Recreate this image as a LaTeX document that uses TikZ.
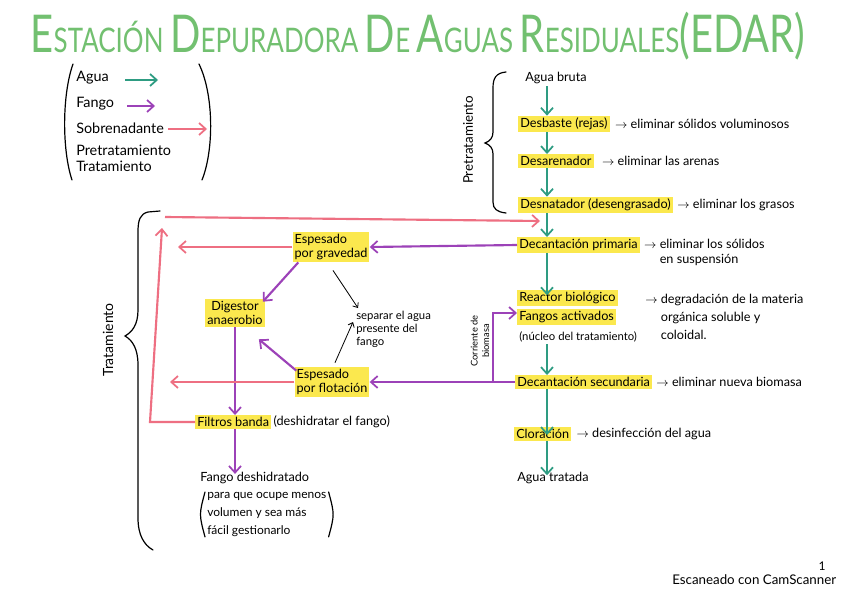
\documentclass[tikz,border=0pt]{standalone}
\usepackage{fontspec}
\usepackage{graphicx}
\setmainfont{Lato}
\usetikzlibrary{arrows.meta,calc}
\definecolor{aguac}{HTML}{2E9C82}
\definecolor{fangoc}{HTML}{9C42B8}
\definecolor{sobc}{HTML}{EE6F82}
\definecolor{hlc}{HTML}{FBE84E}
\definecolor{titc}{HTML}{72C070}
\begin{document}
\begin{tikzpicture}[x=0.75pt,y=-0.75pt,
  font=\fontsize{9.5}{11}\selectfont,
  hl/.style={fill=hlc,inner xsep=1.5pt,inner ysep=1.5pt},
  plain/.style={inner sep=1.5pt},
  legtxt/.style={plain,anchor=west,font=\fontsize{10.8}{12}\selectfont},
  flowbase/.style={line width=1.6pt,-{Straight Barb[length=5pt,width=9pt,line width=1.3pt]}},
  aguaf/.style={flowbase,draw=aguac},
  fangof/.style={flowbase,draw=fangoc},
  sobf/.style={flowbase,draw=sobc},
  thinar/.style={line width=0.6pt,-{Straight Barb[length=3pt,width=5pt]}},
  brk/.style={line width=0.9pt,line cap=round}]
\useasboundingbox (0,0) rectangle (848,599);
\fill[white] (0,0) rectangle (848,599);

% title
\node[text=titc,inner sep=0pt] (title) at (418,36) {\resizebox*{581pt}{36pt}{\fontsize{26}{26}\selectfont{\fontsize{40}{40}\selectfont E}STACIÓN {\fontsize{40}{40}\selectfont D}EPURADORA {\fontsize{40}{40}\selectfont D}E {\fontsize{40}{40}\selectfont A}GUAS {\fontsize{40}{40}\selectfont R}ESIDUALES{\fontsize{40}{40}\selectfont (EDAR)}}};

% legend
\node[legtxt] (lagua) at (74,78) {Agua};
\node[legtxt] (lfango) at (74,104) {Fango};
\node[legtxt] (lsob) at (74,128) {Sobrenadante};
\node[legtxt] (lpre) at (74,150) {Pretratamiento};
\node[legtxt] (ltra) at (74,166) {Tratamiento};
\coordinate (la1) at (125,80); \coordinate (la2) at (158,80);
\coordinate (lf1) at (127,106); \coordinate (lf2) at (155,106);
\coordinate (ls1) at (168,129); \coordinate (ls2) at (207,129);
\draw[aguaf] (la1) -- (la2);
\draw[fangof] (lf1) -- (lf2);
\draw[sobf] (ls1) -- (ls2);
\draw[brk] (73,64) .. controls (62,95) and (62,150) .. (72,180);
\draw[brk] (199,64) .. controls (214,95) and (214,150) .. (202,180);

% pretratamiento brace
\draw[brk] (506,72) .. controls (496,73) and (493,78) .. (493,88) -- (493,132) .. controls (493,138) and (490,141) .. (485,143) .. controls (490,145) and (493,148) .. (493,154) -- (493,202) .. controls (493,209) and (497,212) .. (506,213);
\node[plain,rotate=90,font=\fontsize{10}{12}\selectfont] (pre) at (468,140) {Pretratamiento};

% tratamiento brace
\draw[brk] (160,211) -- (148,212) .. controls (140,214) and (138,220) .. (138,232) -- (138,310) .. controls (138,325) and (132,332) .. (125,336) .. controls (132,340) and (138,348) .. (138,365) -- (138,518) .. controls (138,535) and (144,545) .. (153,550);
\node[plain,rotate=90,font=\fontsize{10.5}{12}\selectfont] (trt) at (108,340) {Tratamiento};

% main column
\coordinate (cx) at (547,0);
\node[plain,anchor=west] (bruta) at (523,78) {Agua bruta};
\node[hl,anchor=west] (desb) at (518,124) {Desbaste (rejas)};
\node[hl,anchor=west] (desa) at (518,161) {Desarenador};
\node[hl,anchor=west] (desn) at (518,205) {Desnatador (desengrasado)};
\node[hl,anchor=west] (dec1) at (517,245) {Decantación primaria};
\node[hl,anchor=west] (reac) at (517,298) {Reactor biológico};
\node[hl,anchor=west] (fang) at (517,317) {Fangos activados};
\node[plain,anchor=west,font=\fontsize{8.5}{10}\selectfont] (nucl) at (517,337) {(núcleo del tratamiento)};
\node[hl,anchor=west] (dec2) at (515,382) {Decantación secundaria};
\node[hl,anchor=west] (clor) at (514,434) {Cloración};
\node[plain,anchor=west] (trat) at (515,478) {Agua tratada};

% descriptions
\node[plain,anchor=west] (d1) at ($(desb.east)+(3,0)$) {$\rightarrow$ eliminar sólidos voluminosos};
\node[plain,anchor=west] (d2) at ($(desa.east)+(6,0)$) {$\rightarrow$ eliminar las arenas};
\node[plain,anchor=west] (d3) at ($(desn.east)+(2,0)$) {$\rightarrow$ eliminar los grasos};
\node[plain,anchor=north west,align=left] (d4) at ($(dec1.north east)+(2,0)$) {$\rightarrow$ eliminar los sólidos\\\hphantom{$\rightarrow$ }en suspensión};
\node[plain,anchor=north west,align=left,font=\fontsize{9.5}{13.5}\selectfont] (d5) at (643,292) {$\rightarrow$ degradación de la materia\\\hphantom{$\rightarrow$ }orgánica soluble y\\\hphantom{$\rightarrow$ }coloidal.};
\node[plain,anchor=west] (d6) at ($(dec2.east)+(2,0)$) {$\rightarrow$ eliminar nueva biomasa};
\node[plain,anchor=west] (d7) at ($(clor.east)+(3,0)$) {$\rightarrow$ desinfección del agua};

\draw[aguaf] (bruta.south -| cx) -- (desb.north -| cx);
\draw[aguaf] (desb.south -| cx) -- (desa.north -| cx);
\draw[aguaf] (desa.south -| cx) -- (desn.north -| cx);
\draw[aguaf] (desn.south -| cx) -- (dec1.north -| cx);
\draw[aguaf] (dec1.south -| cx) -- ([yshift=-4pt]reac.north -| cx);
\draw[aguaf] (nucl.south -| cx) -- (dec2.north -| cx);
\draw[aguaf] (dec2.south -| cx) -- ([yshift=-6pt]clor.north -| cx);
\draw[aguaf] (clor.south -| cx) -- ([yshift=-4pt]trat.north -| cx);

% left side
\node[hl,align=left] (grav) at (331,247) {Espesado\\por gravedad};
\node[hl,align=center] (dig) at (235,313) {Digestor\\anaerobio};
\node[hl,align=left] (flot) at (332,382) {Espesado\\por flotación};
\node[hl,anchor=west] (filt) at (195,422) {Filtros banda};
\node[plain,anchor=west] (filtd) at (filt.east) {(deshidratar el fango)};
\node[plain,anchor=west] (fdes) at (198,478) {Fango deshidratado};
\node[plain,anchor=north west,align=left,font=\fontsize{9}{13.5}\selectfont] (para) at (205,490) {para que ocupe menos\\volumen y sea más\\fácil gestionarlo};
\draw[brk] ($(para.north west)+(0,2)$) .. controls ($(para.west)+(-6,0)$) .. ($(para.south west)+(0,-2)$);
\draw[brk] ($(para.north east)+(0,2)$) .. controls ($(para.east)+(6,0)$) .. ($(para.south east)+(0,-2)$);
\node[plain,anchor=north west,align=left,font=\fontsize{8.5}{9.75}\selectfont] (sep) at (354,309) {separar el agua\\presente del\\fango};
\node[plain,rotate=90,align=center,font=\fontsize{7}{8.5}\selectfont] (corr) at (480,341) {Corriente de\\biomasa};

% fango flows
\draw[fangof] (dec1.west) -- (grav.east);
\draw[fangof] ($(grav.south west)+(6,0)$) -- ($(dig.north east)+(-2,3)$);
\draw[fangof] ($(flot.north west)+(2,4)$) -- ($(dig.south east)+(-6,12)$);
\draw[fangof] (dig.south) -- (filt.north -| dig.south);
\draw[fangof] (filt.south -| dig.south) -- ([yshift=-3pt]fdes.north -| dig.south);
\draw[fangof] (dec2.west) -- (flot.east);
\coordinate (br) at (493,382);
\draw[fangof] (br) |- ([yshift=3pt]fang.west);

% sobrenadante flows
\coordinate (pg) at (178,0);
\coordinate (pf) at (170,0);
\coordinate (pl) at (150,0);
\coordinate (pt) at (162,228);
\coordinate (ps) at (165,217);
\coordinate (pe) at (540,221);
\draw[sobf] (grav.west) -- (grav.west -| pg);
\draw[sobf] (flot.west) -- (flot.west -| pf);
\draw[sobf] (filt.west) -- (filt.west -| pl) -- (pt);
\draw[sobf] (ps) -- (pe);

% thin arrows
\draw[thinar] ($(grav.south)+(2,8)$) -- ($(sep.north west)+(4,-1)$);
\draw[thinar] ($(flot.north)+(3,-4)$) -- ($(sep.north west)+(-1,13)$);

% footer
\node[plain,anchor=west,font=\fontsize{10}{12}\selectfont] (scan) at (670,580) {Escaneado con CamScanner};
\node[plain,font=\fontsize{9}{10}\selectfont] (pnum) at (822,566) {1};
\end{tikzpicture}
\end{document}
